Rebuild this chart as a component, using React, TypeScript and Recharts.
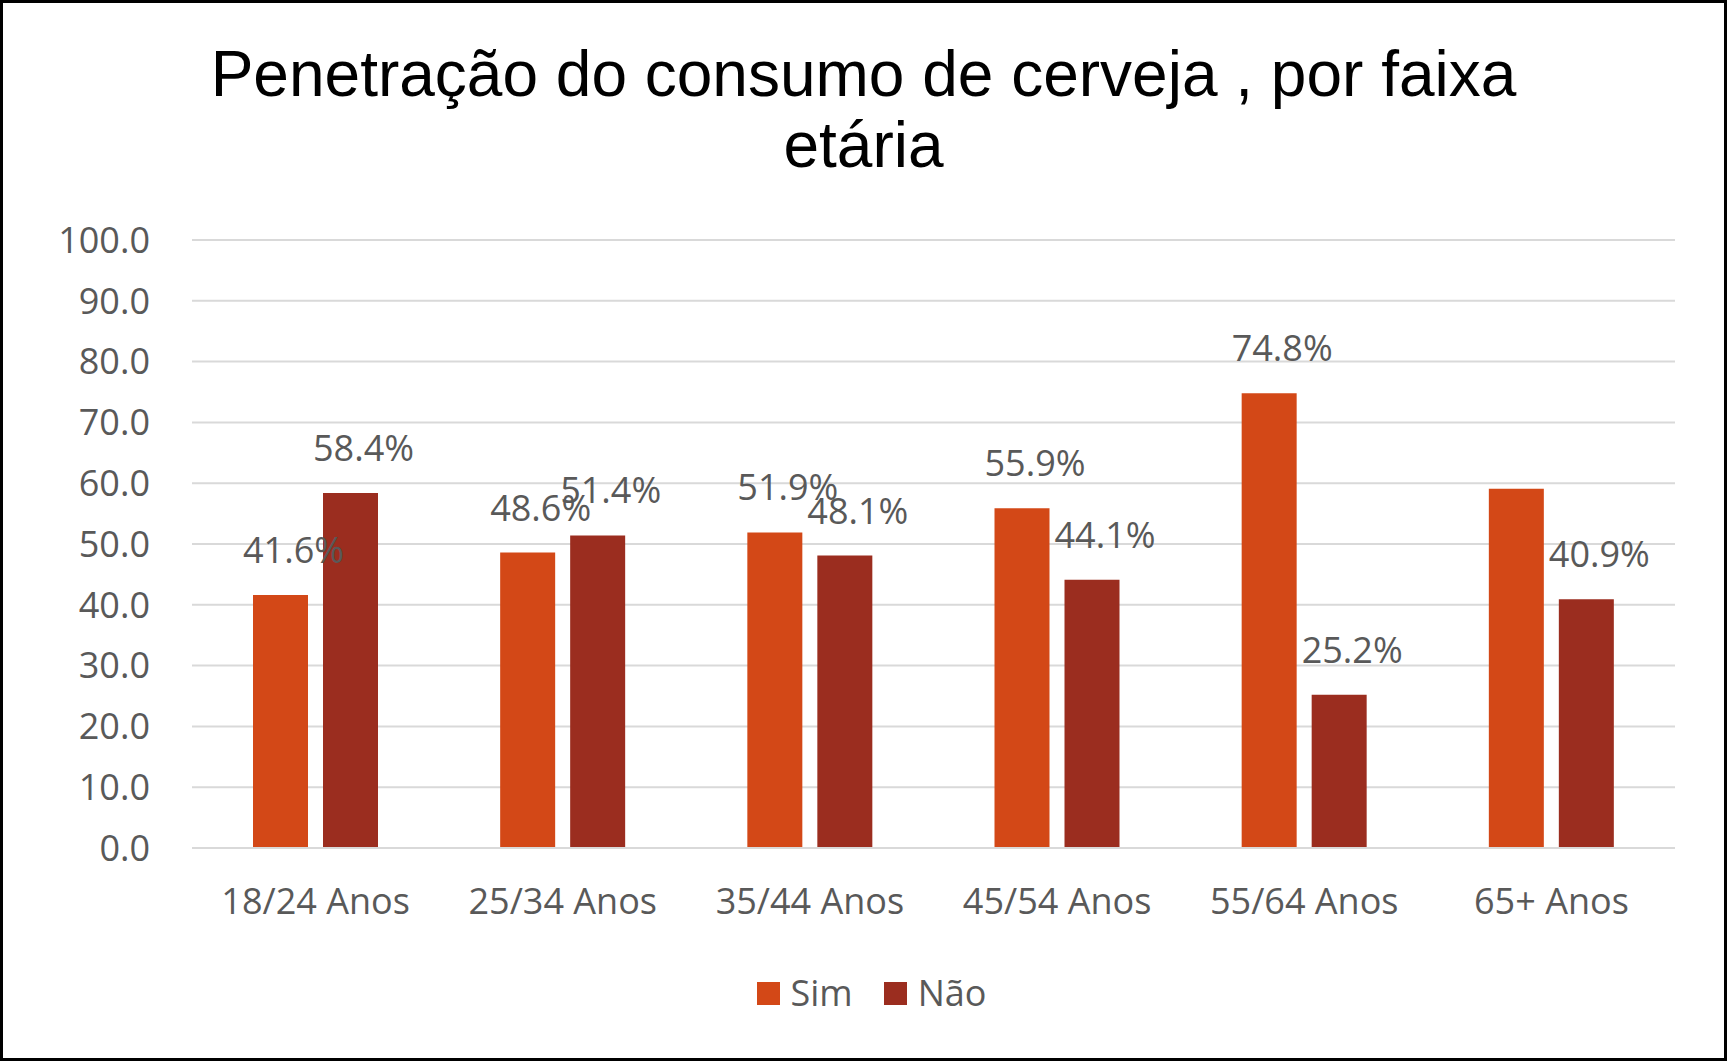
import React from 'react';
import { BarChart, Bar, XAxis, YAxis, CartesianGrid, LabelList } from 'recharts';

const categories = ['18/24 Anos', '25/34 Anos', '35/44 Anos', '45/54 Anos', '55/64 Anos', '65+ Anos'];
const simValues = [41.6, 48.6, 51.9, 55.9, 74.8, 59.1];
const naoValues = [58.4, 51.4, 48.1, 44.1, 25.2, 40.9];
// the 65+ "Sim" bar carries no label in the original
const simLabelShown = [true, true, true, true, true, false];
const naoLabelShown = [true, true, true, true, true, true];
const yTicks = [0, 10, 20, 30, 40, 50, 60, 70, 80, 90, 100];

const SIM = '#D34817';
const NAO = '#9B2D1F';
const TEXT = '#595959';
const GRID = '#D9D9D9';
const FONT = '"Open Sans", sans-serif';

const W = 1727;
const H = 1061;

const chartData = categories.map((c, i) => ({
    category: c,
    sim: simValues[i],
    nao: naoValues[i],
}));

const makeLabel = (shown: boolean[]) =>
    // eslint-disable-next-line @typescript-eslint/no-explicit-any
    (props: any) => {
        const { x, y, width, value, index } = props;
        if (!shown[index]) return null;
        return (
            <text
                x={Number(x) + Number(width) / 2 + 13}
                y={Number(y) - 32}
                textAnchor="middle"
                fill={TEXT}
                fontSize={36}
                fontFamily={FONT}
            >
                {Number(value).toFixed(1)}%
            </text>
        );
    };

const series = [
    { key: 'sim', name: 'Sim', color: SIM, shown: simLabelShown },
    { key: 'nao', name: 'Não', color: NAO, shown: naoLabelShown },
];

export default function App() {
    return (
        <div style={{ position: 'absolute', left: 0, top: 0, width: W, height: H, background: '#fff' }}>
            <BarChart
                width={W}
                height={H}
                data={chartData}
                margin={{ top: 240, right: 52, left: 0, bottom: 153 }}
                barSize={55}
                barGap={15}
            >
                <CartesianGrid horizontal vertical={false} stroke={GRID} strokeWidth={2} />
                <XAxis
                    dataKey="category"
                    height={60}
                    axisLine={{ stroke: GRID, strokeWidth: 2 }}
                    tickLine={false}
                    tickSize={0}
                    tickMargin={40}
                    tick={{ fill: TEXT, fontSize: 36, fontFamily: FONT }}
                />
                <YAxis
                    width={192}
                    domain={[0, 100]}
                    ticks={yTicks}
                    interval={0}
                    axisLine={false}
                    tickLine={false}
                    tickSize={0}
                    tickMargin={42}
                    tickFormatter={(v: number) => v.toFixed(1)}
                    tick={{ fill: TEXT, fontSize: 36, fontFamily: FONT }}
                />
                {series.map((s) => (
                    <Bar key={s.key} dataKey={s.key} name={s.name} fill={s.color} isAnimationActive={false}>
                        <LabelList dataKey={s.key} content={makeLabel(s.shown)} />
                    </Bar>
                ))}
            </BarChart>

            <div
                style={{
                    position: 'absolute',
                    left: 0,
                    top: 39,
                    width: W,
                    textAlign: 'center',
                    fontFamily: '"Liberation Sans", Arial, sans-serif',
                    fontSize: 64,
                    lineHeight: '71px',
                    color: '#000',
                }}
            >
                Penetração do consumo de cerveja , por faixa
                <br />
                etária
            </div>

            <div
                style={{
                    position: 'absolute',
                    left: 8,
                    top: 968,
                    width: W,
                    display: 'flex',
                    justifyContent: 'center',
                    alignItems: 'center',
                    fontFamily: FONT,
                    fontSize: 36,
                    color: TEXT,
                    lineHeight: '50px',
                }}
            >
                {series.map((s, i) => (
                    <div key={s.key} style={{ display: 'flex', alignItems: 'center', marginLeft: i ? 31 : 0 }}>
                        <span style={{ width: 23, height: 23, background: s.color, marginRight: 11 }} />
                        <span>{s.name}</span>
                    </div>
                ))}
            </div>

            <div
                style={{
                    position: 'absolute',
                    left: 0,
                    top: 0,
                    width: W,
                    height: H,
                    boxSizing: 'border-box',
                    border: '3px solid #000',
                    pointerEvents: 'none',
                }}
            />
        </div>
    );
}
